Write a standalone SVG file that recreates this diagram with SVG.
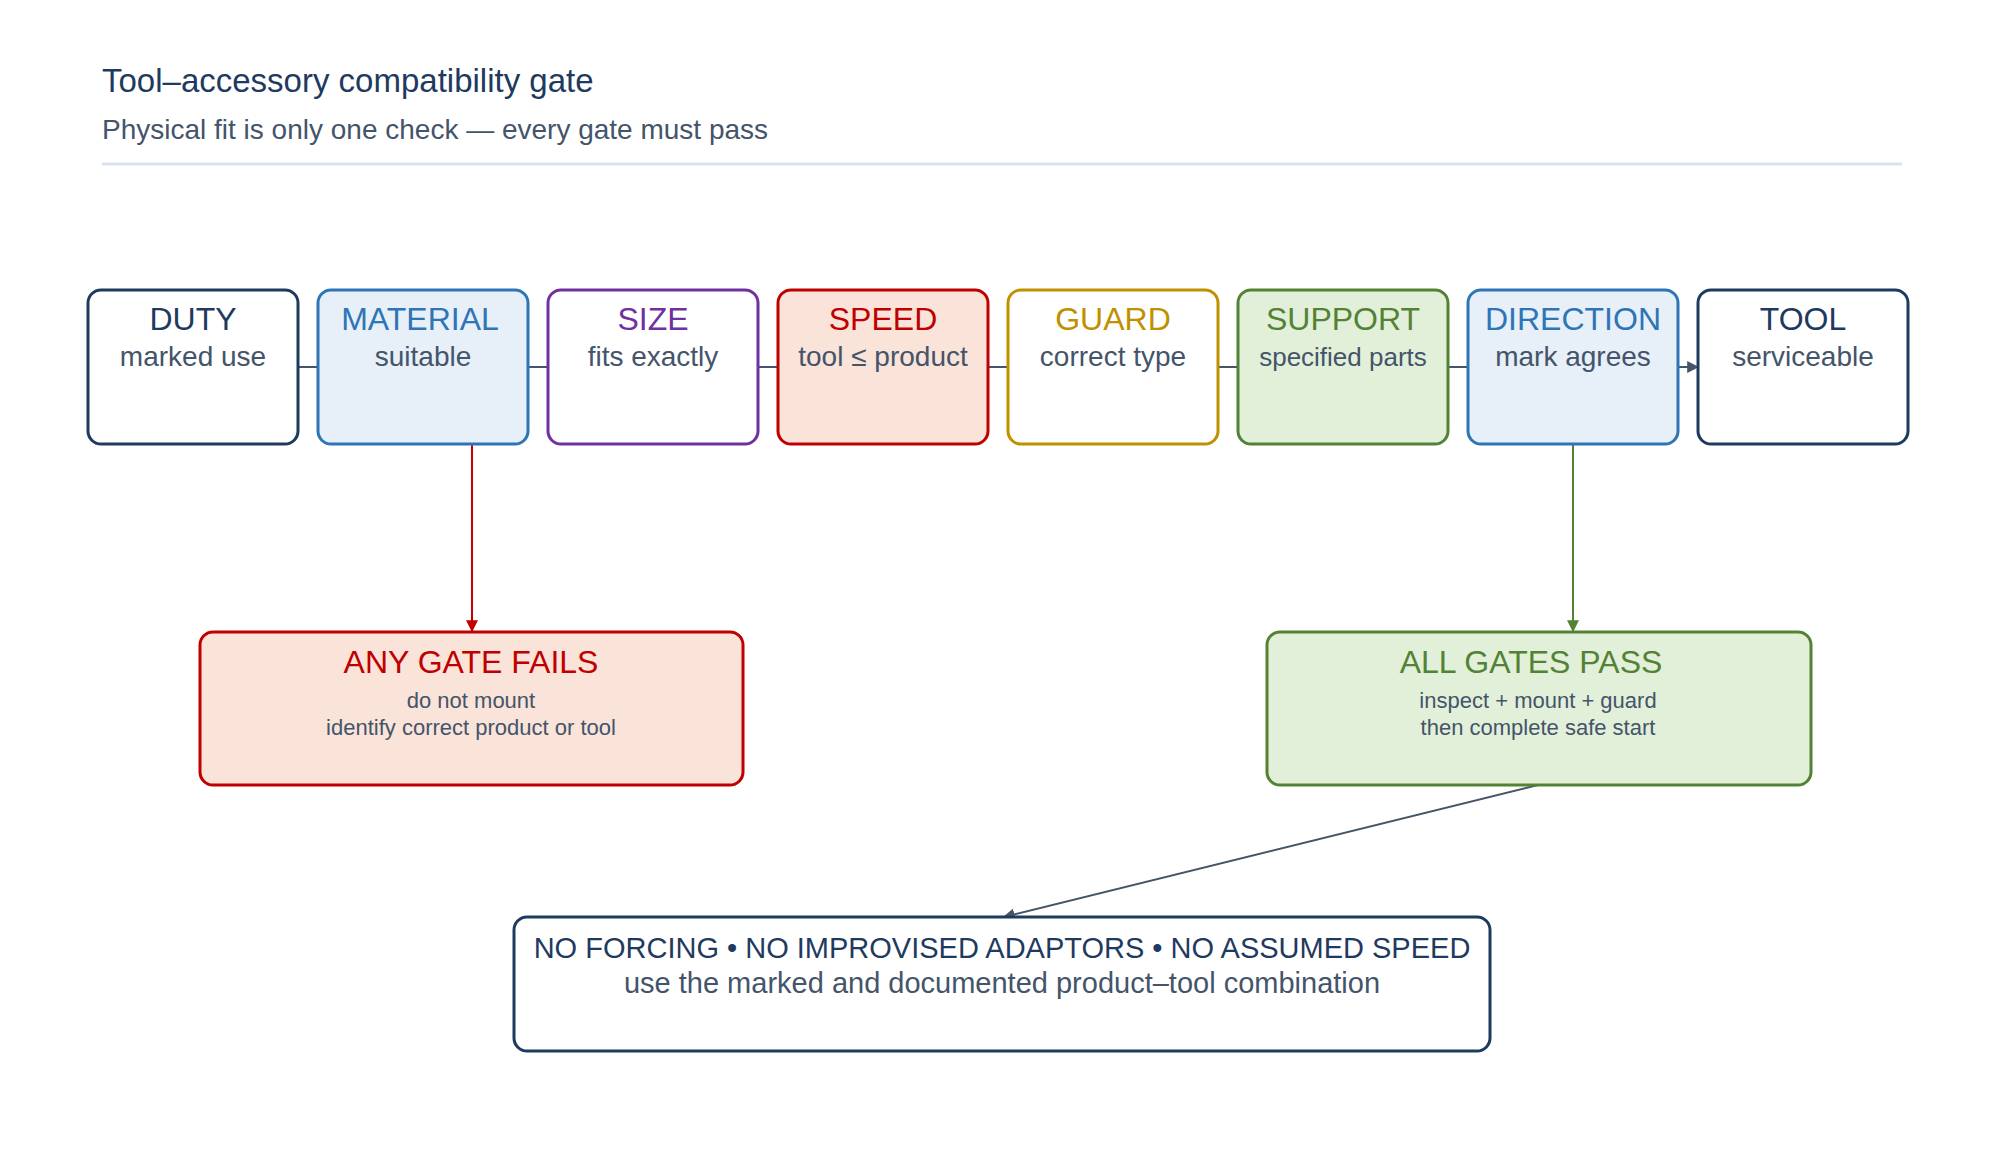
<svg xmlns="http://www.w3.org/2000/svg" width="1994" height="1161" viewBox="0 0 1994 1161">
<style>
text{font-family:"Liberation Sans",Arial,sans-serif;text-anchor:middle}
.t{font-size:32px}
.s{font-size:28px;fill:#44546a}
.b{fill:#fff;stroke-width:3}
.navy{stroke:#1f3a5f}.navyT{fill:#1f3a5f}
.blue{stroke:#2e75b6;fill:#e7eff8}.blueT{fill:#2e75b6}
.purp{stroke:#7030a0}.purpT{fill:#7030a0}
.red{stroke:#c00000;fill:#fae3d8}.redT{fill:#c00000}
.gold{stroke:#bf9000}.goldT{fill:#bf9000}
.grn{stroke:#548235;fill:#e2f0d9}.grnT{fill:#548235}
.c{fill:none;stroke-width:2}
</style>
<defs>
<marker id="ag" viewBox="0 0 10 10" refX="9" refY="5" markerWidth="6" markerHeight="6" orient="auto"><path d="M0,0L10,5L0,10z" fill="#44546a"/></marker>
<marker id="ar" viewBox="0 0 10 10" refX="9" refY="5" markerWidth="6" markerHeight="6" orient="auto"><path d="M0,0L10,5L0,10z" fill="#c00000"/></marker>
<marker id="an" viewBox="0 0 10 10" refX="9" refY="5" markerWidth="6" markerHeight="6" orient="auto"><path d="M0,0L10,5L0,10z" fill="#548235"/></marker>
</defs>
<rect width="1994" height="1161" fill="#fff"/>
<text x="102" y="92" style="text-anchor:start;font-size:33px" fill="#1f3a5f">Tool–accessory compatibility gate</text>
<text x="102" y="139" style="text-anchor:start;font-size:28px" fill="#44546a">Physical fit is only one check — every gate must pass</text>
<line x1="102" y1="164" x2="1902" y2="164" stroke="#d9e1f2" stroke-width="3"/>
<g id="connectors">
<path class="c" stroke="#44546a" marker-end="url(#ag)" d="M298,367H318M528,367H548M758,367H778M988,367H1008M1218,367H1238M1448,367H1468M1678,367H1698"/>
<path class="c" stroke="#c00000" marker-end="url(#ar)" d="M472,444V631"/>
<path class="c" stroke="#548235" marker-end="url(#an)" d="M1573,444V631"/>
<path class="c" stroke="#44546a" marker-end="url(#ag)" d="M1538,785L1004,917"/>
</g>
<g id="duty"><rect class="b navy" x="88" y="290" width="210" height="154" rx="13"/><text class="t navyT" x="193" y="330">DUTY</text><text class="s" x="193" y="366">marked use</text></g>
<g id="material"><rect class="b blue" x="318" y="290" width="210" height="154" rx="13"/><text class="t blueT" x="420" y="330">MATERIAL</text><text class="s" x="423" y="366">suitable</text></g>
<g id="size"><rect class="b purp" x="548" y="290" width="210" height="154" rx="13"/><text class="t purpT" x="653" y="330">SIZE</text><text class="s" x="653" y="366">fits exactly</text></g>
<g id="speed"><rect class="b red" x="778" y="290" width="210" height="154" rx="13"/><text class="t redT" x="883" y="330">SPEED</text><text class="s" x="883" y="366">tool ≤ product</text></g>
<g id="guard"><rect class="b gold" x="1008" y="290" width="210" height="154" rx="13"/><text class="t goldT" x="1113" y="330">GUARD</text><text class="s" x="1113" y="366">correct type</text></g>
<g id="support"><rect class="b grn" x="1238" y="290" width="210" height="154" rx="13"/><text class="t grnT" x="1343" y="330">SUPPORT</text><text class="s" x="1343" y="366" style="font-size:26px">specified parts</text></g>
<g id="direction"><rect class="b blue" x="1468" y="290" width="210" height="154" rx="13"/><text class="t blueT" x="1573" y="330">DIRECTION</text><text class="s" x="1573" y="366">mark agrees</text></g>
<g id="tool"><rect class="b navy" x="1698" y="290" width="210" height="154" rx="13"/><text class="t navyT" x="1803" y="330">TOOL</text><text class="s" x="1803" y="366">serviceable</text></g>
<g id="fail"><rect class="b red" x="200" y="632" width="543" height="153" rx="13"/><text class="t redT" x="471" y="673">ANY GATE FAILS</text><text class="s" x="471" y="708" style="font-size:22px">do not mount</text><text class="s" x="471" y="735" style="font-size:22px">identify correct product or tool</text></g>
<g id="pass"><rect class="b grn" x="1267" y="632" width="544" height="153" rx="13"/><text class="t grnT" x="1531" y="673">ALL GATES PASS</text><text class="s" x="1538" y="708" style="font-size:22px">inspect + mount + guard</text><text class="s" x="1538" y="735" style="font-size:22px">then complete safe start</text></g>
<g id="rule"><rect class="b navy" x="514" y="917" width="976" height="134" rx="13"/><text class="navyT" x="1002" y="958" style="font-size:29px">NO FORCING • NO IMPROVISED ADAPTORS • NO ASSUMED SPEED</text><text class="s" x="1002" y="993" style="font-size:29px">use the marked and documented product–tool combination</text></g>
</svg>
